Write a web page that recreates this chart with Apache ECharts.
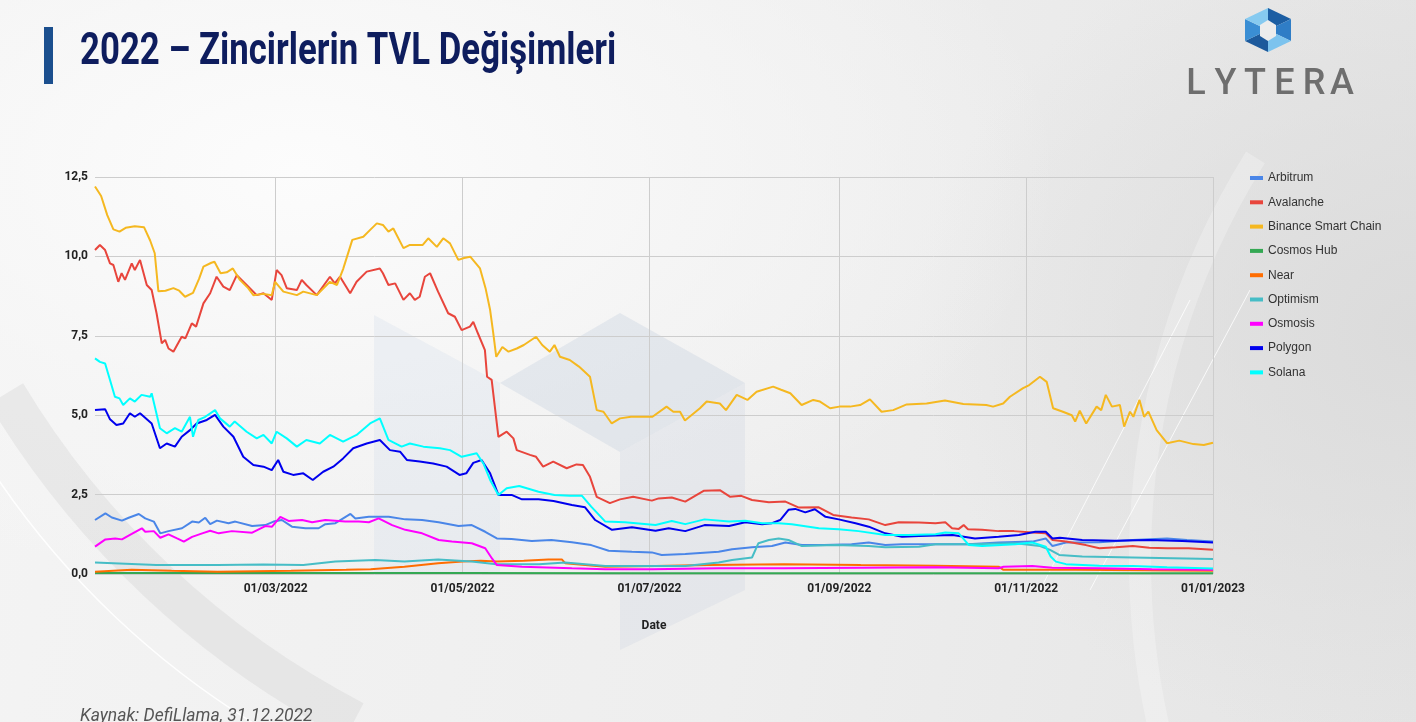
<!DOCTYPE html>
<html>
<head>
<meta charset="utf-8">
<script src="https://cdn.jsdelivr.net/npm/echarts@6/dist/echarts.min.js"></script>
<style>
html,body{margin:0;padding:0;width:1416px;height:722px;overflow:hidden;}
body{
  background:
    radial-gradient(ellipse 760px 420px at 300px 170px, rgba(252,252,252,1) 0%, rgba(247,247,247,0.7) 55%, rgba(242,242,242,0) 100%),
    radial-gradient(ellipse 500px 420px at 1416px 330px, rgba(218,218,218,0.9) 0%, rgba(228,228,228,0) 100%),
    linear-gradient(100deg,#f4f4f4 0%,#eeeeee 55%,#e4e4e4 100%);
}
#chart{width:1416px;height:722px;}
</style>
</head>
<body>
<div id="chart"></div>
<script>
// ---------- DATA (day offset from 01/01/2022, TVL in billion USD) ----------
const START = Date.UTC(2022, 0, 1);
const DAY = 86400000;

const seriesNames = ['Arbitrum','Avalanche','Binance Smart Chain','Cosmos Hub','Near','Optimism','Osmosis','Polygon','Solana'];
const seriesColors = ['#4a86e8','#e8453c','#f5b820','#34a853','#ff6d01','#46bdc6','#ff00ff','#0000ee','#00ffff'];

const arbitrum = [[0,1.7],[3.4,1.91],[5.5,1.78],[8.8,1.68],[11,1.77],[14.3,1.89],[16.4,1.75],[19.2,1.65],[21.3,1.28],[24,1.35],[28.4,1.44],[31.7,1.65],[33.9,1.62],[36,1.77],[37.6,1.57],[39.8,1.68],[43.6,1.6],[45.8,1.65],[51.3,1.51],[55.6,1.54],[58.3,1.65],[61,1.7],[64.3,1.49],[68.7,1.44],[73,1.44],[75.2,1.57],[78.5,1.6],[83.4,1.89],[85,1.75],[89.4,1.8],[95.9,1.8],[101.3,1.72],[106.8,1.7],[112.2,1.63],[118.7,1.51],[123,1.54],[127.4,1.33],[131.2,1.12],[136,1.1],[142.6,1.04],[149,1.07],[155.7,1.0],[162,0.91],[167.7,0.73],[175.3,0.7],[181.8,0.68],[185,0.6],[192.7,0.63],[203.6,0.7],[208,0.78],[214.5,0.84],[221,0.88],[225.4,0.99],[230.8,0.91],[238,0.91],[247,0.94],[252.6,0.99],[258,0.91],[263.5,0.94],[274.4,0.94],[285,0.94],[295,0.99],[306,1.02],[310.4,1.12],[312.6,0.88],[317,0.99],[327.9,1.0],[338.8,1.07],[350,1.12],[356.5,1.07],[365,1.02]];

const avalanche = [[0,10.2],[1.6,10.36],[3.3,10.2],[4.9,9.78],[6,9.73],[7.6,9.2],[8.7,9.47],[9.8,9.26],[12,9.78],[13,9.57],[14.7,9.89],[16.9,9.1],[18.5,8.94],[20.1,8.21],[21.8,7.26],[22.9,7.37],[24,7.1],[25.6,7.0],[28.3,7.47],[29.5,7.42],[31.6,7.89],[33,7.79],[35.4,8.52],[37.6,8.84],[39.7,9.36],[41.9,9.05],[44,8.94],[46.3,9.41],[49.5,9.1],[52.8,8.78],[55,8.84],[57.7,8.63],[59.3,9.57],[60.9,9.41],[62.6,9.0],[65.9,8.94],[67.5,9.26],[69,9.1],[72.4,8.78],[76.7,9.36],[78.3,9.15],[80,9.36],[83.3,8.84],[85.4,9.2],[88.7,9.52],[93,9.62],[94,9.47],[95.8,9.1],[98,9.15],[100.7,8.63],[102.8,8.84],[104.4,8.63],[106,8.73],[107.7,9.36],[109.4,9.47],[112,8.89],[115.3,8.21],[117.5,8.1],[119.7,7.68],[122.4,7.79],[123.5,7.94],[125,7.58],[127.3,7.05],[128,6.21],[129.5,6.11],[131.7,4.32],[134.4,4.48],[136.6,4.27],[137.7,3.9],[142,3.75],[144,3.69],[146.3,3.38],[149.6,3.54],[154,3.33],[157.2,3.45],[159.3,3.43],[161.6,3.06],[163.8,2.43],[168.1,2.23],[171.4,2.35],[175.7,2.43],[181.8,2.31],[184,2.38],[188.3,2.41],[192.7,2.28],[198.7,2.62],[204,2.64],[207.4,2.43],[211,2.46],[214.5,2.33],[220,2.26],[225.4,2.28],[229.8,2.09],[236.3,2.1],[241,1.86],[247,1.78],[252.6,1.72],[258,1.54],[262.4,1.63],[269,1.62],[274.4,1.6],[277.6,1.63],[279.8,1.44],[282,1.42],[283.6,1.54],[285,1.41],[289.6,1.39],[295,1.35],[300,1.35],[306,1.31],[310.4,1.28],[312.6,1.07],[317,1.02],[323.5,0.91],[327.9,0.81],[333.3,0.84],[338.8,0.88],[344.2,0.83],[350,0.81],[357,0.81],[365,0.76]];

const bsc = [[0,12.2],[2,11.9],[4,11.3],[6,10.85],[8,10.78],[10,10.9],[13,10.95],[16,10.92],[18,10.5],[19.5,10.1],[20.7,8.9],[23,8.92],[25.6,9.0],[27.5,8.92],[29.4,8.73],[32,8.85],[34,9.3],[35.4,9.68],[38,9.8],[39,9.83],[41,9.47],[43,9.5],[45,9.62],[47.3,9.26],[50,9.0],[51.7,8.78],[55,8.82],[57.7,8.78],[58.8,9.2],[61.5,8.89],[65.9,8.78],[68,8.89],[72.4,8.78],[76.7,9.2],[79,9.1],[81,9.6],[84,10.52],[87.6,10.62],[90,10.85],[92,11.04],[94,10.99],[95.8,10.78],[97.4,10.88],[100.7,10.26],[102.8,10.36],[107,10.36],[108.8,10.57],[111.6,10.3],[113.7,10.57],[115.9,10.41],[118.6,9.89],[120.5,9.95],[122.5,9.99],[125.7,9.62],[127.5,9.0],[129,8.31],[130,7.6],[131,6.84],[133,7.15],[135,7.0],[137.7,7.1],[140,7.21],[144,7.47],[146,7.21],[148.5,7.0],[150,7.21],[151.8,6.84],[155,6.74],[158,6.53],[161.6,6.21],[163.8,5.16],[166,5.11],[168.7,4.74],[171.4,4.9],[175,4.95],[182,4.95],[186.6,5.27],[188.8,5.11],[191,5.11],[192.6,4.83],[197.5,5.22],[199.7,5.43],[204,5.37],[206,5.16],[209.5,5.64],[213,5.48],[216,5.74],[221.4,5.9],[224,5.8],[227,5.69],[230.7,5.32],[234.5,5.48],[236.7,5.43],[240,5.22],[243,5.27],[246.5,5.27],[249.8,5.32],[253,5.5],[256.8,5.11],[260.6,5.16],[265,5.34],[271.5,5.37],[277.5,5.46],[283.5,5.35],[291,5.32],[293.2,5.27],[296.5,5.37],[298.7,5.58],[303,5.85],[305,5.95],[308.5,6.21],[310.7,6.05],[312.8,5.22],[316,5.11],[318.9,5.0],[320,4.8],[321.5,5.14],[323.6,4.74],[327,5.27],[328.5,5.16],[330,5.64],[332,5.27],[334.6,5.32],[336,4.64],[337.9,5.11],[339,4.95],[341,5.48],[342.5,4.95],[343.9,5.11],[346.6,4.53],[350,4.12],[354,4.2],[358.6,4.09],[362,4.06],[365,4.13]];

const cosmosHub = [[0,0.03],[60,0.03],[120,0.03],[180,0.02],[240,0.02],[300,0.02],[365,0.02]];

const near = [[0,0.07],[12,0.13],[25,0.1],[40,0.07],[64,0.1],[82,0.13],[90,0.15],[101,0.23],[112,0.34],[120,0.39],[126,0.42],[131,0.39],[140,0.42],[148,0.46],[152.4,0.46],[153.5,0.34],[166.6,0.23],[183,0.25],[200,0.28],[225,0.31],[250,0.28],[274.4,0.26],[295,0.23],[296.6,0.13],[320,0.13],[365,0.1]];

const optimism = [[0,0.36],[8,0.33],[20,0.28],[40,0.28],[55,0.3],[68,0.28],[78.5,0.39],[91.5,0.44],[101,0.39],[112,0.46],[123,0.39],[131,0.31],[145,0.31],[153.5,0.36],[166.6,0.25],[183,0.25],[192.7,0.25],[203.6,0.36],[208,0.44],[214.5,0.52],[216.6,0.97],[220,1.07],[223.2,1.12],[226.4,1.07],[230.8,0.88],[241.6,0.91],[252.6,0.88],[258,0.84],[269,0.86],[274.4,0.94],[285,0.94],[300.5,0.97],[308.5,0.88],[311.8,0.76],[314.8,0.6],[322.3,0.55],[338.8,0.52],[365,0.47]];

const osmosis = [[0,0.86],[3.4,1.09],[6.6,1.12],[8.8,1.09],[12,1.26],[15.3,1.44],[16.4,1.33],[19.2,1.35],[21.3,1.14],[24,1.25],[26.8,1.12],[29,1.02],[31.7,1.17],[35,1.28],[37.6,1.36],[40.4,1.28],[44.7,1.35],[51.3,1.3],[55.6,1.51],[57.8,1.49],[60.5,1.8],[63.2,1.67],[67.6,1.7],[70.9,1.63],[75.2,1.7],[81.7,1.65],[86.1,1.65],[89.4,1.63],[92.6,1.75],[97,1.54],[101.3,1.39],[106.8,1.28],[112.2,1.07],[116.5,1.02],[123,0.97],[127.4,0.81],[129.6,0.49],[131.2,0.28],[139.4,0.23],[155.7,0.18],[166.6,0.15],[181.8,0.15],[203.6,0.18],[225,0.18],[250,0.2],[274.4,0.21],[295,0.18],[296.6,0.23],[306,0.25],[312.6,0.2],[327.9,0.18],[345,0.15],[365,0.13]];

const polygon = [[0,5.16],[3.3,5.19],[4.9,4.87],[7,4.69],[9.2,4.74],[11.4,5.06],[13,4.95],[14.7,5.06],[18.5,4.74],[21.2,3.96],[23.4,4.11],[26.1,4.01],[28.3,4.32],[31,4.53],[33.2,4.74],[36.5,4.85],[39.2,5.01],[41.9,4.64],[45.2,4.32],[48.4,3.69],[51.7,3.43],[55,3.38],[57.7,3.27],[59.8,3.59],[61.5,3.22],[64.7,3.12],[68,3.17],[71.1,2.96],[74.5,3.22],[77.8,3.38],[81,3.64],[84.3,3.96],[88.7,4.11],[93,4.22],[96.3,3.9],[99.6,3.85],[101.8,3.59],[106,3.54],[110.4,3.48],[114.8,3.38],[119,3.12],[121.2,3.17],[123.5,3.5],[126.2,3.59],[129,3.17],[131.7,2.49],[136,2.49],[139.4,2.35],[144.8,2.35],[149.7,2.3],[155.7,2.17],[160,2.1],[163.3,1.7],[168.8,1.39],[175.3,1.47],[183,1.36],[187.3,1.44],[192.7,1.35],[199,1.54],[207,1.51],[212.3,1.63],[217.8,1.57],[221,1.6],[223.7,1.7],[226.4,2.02],[228.6,2.05],[231.9,1.94],[235,2.04],[238.5,1.8],[242.8,1.72],[248.3,1.6],[252.6,1.49],[258,1.28],[263.5,1.17],[269,1.2],[274.4,1.21],[280,1.23],[287.3,1.12],[295,1.17],[301.6,1.23],[307,1.33],[310.4,1.33],[312.6,1.12],[315,1.14],[322.3,1.07],[333,1.05],[344,1.07],[355,1.04],[365,0.99]];

const solana = [[0,6.79],[1.6,6.68],[3.3,6.63],[4.9,6.11],[6.5,5.58],[8,5.53],[9.2,5.32],[11.4,5.53],[13,5.43],[15.2,5.64],[18,5.58],[18.5,5.69],[21.2,4.59],[23.4,4.43],[26.1,4.59],[28.3,4.48],[31,4.95],[32,4.32],[33.7,4.85],[36,4.95],[39.2,5.16],[40.8,4.9],[44,4.64],[45.6,4.8],[49.5,4.48],[52.8,4.27],[55,4.38],[57.7,4.11],[59.3,4.48],[62.6,4.27],[65.9,4.01],[69,4.22],[73.4,4.11],[76.7,4.38],[81,4.17],[85.4,4.38],[89.8,4.74],[93,4.9],[95.8,4.22],[100.1,4.01],[102.8,4.11],[107.2,4.01],[112.6,3.96],[115.9,3.9],[119.7,3.69],[124.6,3.8],[126.8,3.48],[129,2.96],[131.7,2.49],[134.4,2.7],[138.5,2.77],[144.8,2.59],[150,2.49],[155,2.46],[159,2.46],[162,2.12],[166.6,1.65],[173,1.63],[183,1.54],[188.3,1.67],[192.7,1.57],[199,1.72],[207,1.65],[212.3,1.68],[217.8,1.6],[223.2,1.6],[227.5,1.57],[236.3,1.44],[242.8,1.41],[249.3,1.35],[258,1.23],[265.6,1.23],[274.4,1.25],[277.6,1.31],[282,1.28],[285.3,0.91],[289.6,0.88],[300.5,0.94],[306,0.99],[310.4,0.86],[312,0.55],[313.7,0.39],[317,0.31],[327.9,0.26],[338.8,0.25],[350,0.21],[365,0.17]];

const seriesData = [arbitrum, avalanche, bsc, cosmosHub, near, optimism, osmosis, polygon, solana];

// tick marks
const xTickDates = [[2022,2,1],[2022,4,1],[2022,6,1],[2022,8,1],[2022,10,1],[2023,0,1]];
const yMin = 0, yMax = 12.5, yInterval = 2.5;

// ---------- CHART ----------
const toTs = d => START + d * DAY;
const xTicks = xTickDates.map(a => Date.UTC(a[0], a[1], a[2]));
const pad = n => (n < 10 ? '0' : '') + n;
const fmtDate = v => { const d = new Date(v); return pad(d.getUTCDate()) + '/' + pad(d.getUTCMonth() + 1) + '/' + d.getUTCFullYear(); };

const chart = echarts.init(document.getElementById('chart'), null, {renderer: 'canvas'});

const letters = ['L','Y','T','E','R','A'];
const letterX = [1196, 1225.5, 1255, 1284.5, 1314, 1342];

const hexC = [1268, 30];
const hexP = [[1268,8],[1291,19],[1291,41],[1268,52],[1245,41],[1245,19]];
const hexCols = ['#1c5ea3','#2f7dc6','#7cc3ee','#1d5a9c','#3a8ed4','#86caf0'];

const graphics = [];
// watermark
graphics.push({type:'polygon', z:-20, shape:{points:[[374,315],[500,383],[500,575],[374,575]]}, style:{fill:'rgba(200,212,230,0.22)'}});
graphics.push({type:'polygon', z:-20, shape:{points:[[500,383],[620,313],[745,383],[620,452]]}, style:{fill:'rgba(190,202,220,0.30)'}});
graphics.push({type:'polygon', z:-20, shape:{points:[[620,452],[745,383],[745,590],[620,650]]}, style:{fill:'rgba(196,206,222,0.24)'}});
// decorative arcs
graphics.push({type:'arc', z:-20, shape:{cx:760, cy:-60, r:880, startAngle:2.05, endAngle:2.6}, style:{stroke:'rgba(200,200,200,0.28)', lineWidth:40, fill:null}});
graphics.push({type:'arc', z:-20, shape:{cx:700, cy:0, r:850, startAngle:2.10, endAngle:2.56}, style:{stroke:'rgba(255,255,255,0.9)', lineWidth:1.5, fill:null}});
graphics.push({type:'arc', z:-20, shape:{cx:1900, cy:560, r:760, startAngle:2.6, endAngle:3.7}, style:{stroke:'rgba(255,255,255,0.25)', lineWidth:22, fill:null}});
graphics.push({type:'line', z:-20, shape:{x1:1040, y1:590, x2:1190, y2:300}, style:{stroke:'rgba(255,255,255,0.8)', lineWidth:1}});
graphics.push({type:'line', z:-20, shape:{x1:1090, y1:590, x2:1250, y2:290}, style:{stroke:'rgba(255,255,255,0.8)', lineWidth:1}});
// title bar + title
graphics.push({type:'rect', shape:{x:44, y:27, width:9, height:57}, style:{fill:'#1b4f8e'}});
graphics.push({type:'text', x:80, y:53, scaleX:0.79, style:{text:'2022 – Zincirlerin TVL Değişimleri', font:'bold 44px Roboto', fill:'#0e1d5e', verticalAlign:'middle', align:'left'}});
// logo
for (let i = 0; i < 6; i++) {
  graphics.push({type:'polygon', shape:{points:[hexP[i], hexP[(i+1)%6], hexC]}, style:{fill:hexCols[i]}});
}
graphics.push({type:'polygon', shape:{points:[[1268,20],[1276,25],[1276,36],[1268,41],[1260,36],[1260,25]]}, style:{fill:'#ececec'}});
letters.forEach((l, i) => graphics.push({type:'text', x:letterX[i], y:85, style:{text:l, font:'500 36px Roboto', fill:'#6e6e6e', align:'center', verticalAlign:'middle'}}));
// footer
graphics.push({type:'text', x:80, y:708, style:{text:'Kaynak: DefiLlama, 31.12.2022', font:'italic 17.5px Roboto', fill:'#555555', verticalAlign:'top'}});

const option = {
  animation: false,
  grid: {left: 95, right: 203, top: 177, bottom: 148, containLabel: false},
  legend: {
    orient: 'vertical', left: 1245, top: 166,
    icon: 'rect', itemWidth: 13, itemHeight: 4, itemGap: 10.3,
    textStyle: {fontSize: 12, color: '#333', fontFamily: 'Liberation Sans, Arial, sans-serif', lineHeight: 14},
    data: seriesNames
  },
  xAxis: {
    type: 'value', min: START, max: xTicks[xTicks.length - 1],
    name: 'Date', nameLocation: 'middle', nameGap: 46,
    nameTextStyle: {fontSize: 12, fontWeight: 'bold', color: '#222', fontFamily: 'Roboto, sans-serif'},
    axisLine: {show: false},
    axisTick: {show: false, customValues: xTicks},
    axisLabel: {customValues: xTicks, formatter: v => fmtDate(v), fontSize: 12, fontWeight: 'bold', color: '#222', margin: 9, fontFamily: 'Roboto, sans-serif'},
    splitLine: {show: true, lineStyle: {color: '#cdcdcd', width: 1}}
  },
  yAxis: {
    type: 'value', min: yMin, max: yMax, interval: yInterval,
    axisLine: {show: false}, axisTick: {show: false},
    axisLabel: {formatter: v => v.toFixed(1).replace('.', ','), fontSize: 12, fontWeight: 'bold', color: '#222', margin: 7, fontFamily: 'Roboto, sans-serif'},
    splitLine: {show: true, lineStyle: {color: '#cdcdcd', width: 1}}
  },
  graphic: {elements: graphics},
  series: seriesNames.map((n, i) => ({
    name: n, type: 'line', showSymbol: false, symbol: 'none',
    data: seriesData[i].map(p => [toTs(p[0]), p[1]]),
    lineStyle: {width: 2, color: seriesColors[i]},
    itemStyle: {color: seriesColors[i]},
    emphasis: {disabled: true}
  }))
};
chart.setOption(option);
</script>
</body>
</html>
